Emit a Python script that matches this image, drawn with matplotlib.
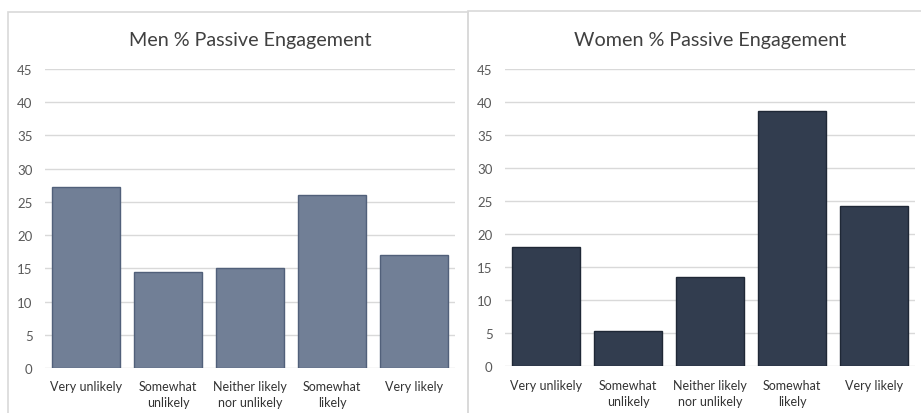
import matplotlib.pyplot as plt
from matplotlib.patches import Rectangle

# survey answers shared by both charts
categories = ["Very unlikely", "Somewhat\nunlikely", "Neither likely\nnor unlikely",
              "Somewhat\nlikely", "Very likely"]
men_pct = [27.2, 14.4, 15.1, 26.0, 17.0]
women_pct = [18.0, 5.4, 13.5, 38.7, 24.3]
y_ticks = [0, 5, 10, 15, 20, 25, 30, 35, 40, 45]

plt.rcParams['font.family'] = ['Lato', 'DejaVu Sans']

W, H = 921, 414
fig = plt.figure(figsize=(W / 100, H / 100), dpi=100)


def px_box(x0, y0, x1, y1):
    # pixel box (top-left origin) -> figure fraction rect
    return [x0 / W, (H - y1) / H, (x1 - x0) / W, (y1 - y0) / H]


# panel frames
for (x0, y0, x1, y1) in [(8, 13, 468, 430), (468, 12, 940, 430)]:
    r = px_box(x0, y0, x1, y1)
    fig.add_artist(Rectangle((r[0], r[1]), r[2], r[3], transform=fig.transFigure,
                             fill=False, edgecolor='#d9d9d9', linewidth=1.2))


def draw_panel(rect, values, title, fill, edge):
    ax = fig.add_axes(rect)
    xs = range(len(categories))
    ax.bar(xs, values, width=0.84, color=fill, edgecolor=edge, linewidth=1.0, zorder=3)
    ax.set_xlim(-0.5, len(categories) - 0.5)
    ax.set_ylim(0, 45)
    ax.set_yticks(y_ticks)
    ax.set_xticks(list(xs))
    ax.set_xticklabels(categories, fontsize=9, color='#333333', linespacing=1.4)
    ax.tick_params(axis='y', length=0, pad=9, labelsize=9.5, labelcolor='#595959')
    ax.tick_params(axis='x', length=0, pad=9)
    ax.grid(axis='y', color='#d9d9d9', linewidth=1.0, zorder=0)
    for s in ax.spines.values():
        s.set_visible(False)
    ax.set_title(title, fontsize=14.2, color='#404040', pad=17.5)
    return ax


draw_panel(px_box(45, 70, 455, 369), men_pct, "Men % Passive Engagement",
           '#717f96', '#51607a')
draw_panel(px_box(505, 70, 915, 367.3), women_pct, "Women % Passive Engagement",
           '#323d4f', '#1f2836')

fig.savefig("out.png", dpi=100)
